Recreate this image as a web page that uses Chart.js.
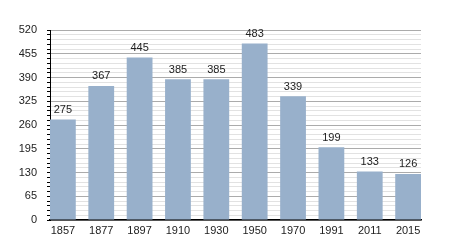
<!DOCTYPE html>
<html>
<head>
<meta charset="utf-8">
<script src="https://cdn.jsdelivr.net/npm/chart.js@4"></script>
<style>
  body { margin: 0; background: #fff; }
  #wrap { width: 450px; height: 250px; }
</style>
</head>
<body>
<div id="wrap"><canvas id="popChart" width="450" height="250"></canvas></div>
<script>
// population by census year
var years = ['1857', '1877', '1897', '1910', '1930', '1950', '1970', '1991', '2011', '2015'];
var population = [275, 367, 445, 385, 385, 483, 339, 199, 133, 126];
var yMax = 520;
var yMajor = 65;
var yMinor = 13;

document.addEventListener('DOMContentLoaded', function() {
    var ctx = document.getElementById('popChart').getContext('2d');
    Chart.defaults.font.family = "'Liberation Sans', Arial, sans-serif";
    Chart.defaults.font.size = 11;
    Chart.defaults.color = '#222';

    // numbers on top of each bar
    var barLabels = {
        id: 'barLabels',
        afterDatasetsDraw: function(chart) {
            var c = chart.ctx;
            var meta = chart.getDatasetMeta(0);
            c.save();
            c.font = "11px 'Liberation Sans', Arial, sans-serif";
            c.fillStyle = '#222';
            c.textAlign = 'center';
            c.textBaseline = 'bottom';
            meta.data.forEach(function(bar, i) {
                c.fillText(population[i], bar.x, bar.y - 4);
            });
            c.restore();
        }
    };

    new Chart(ctx, {
        type: 'bar',
        data: {
            datasets: [{
                data: population.map(function(v, i) { return { x: i, y: v }; }),
                backgroundColor: '#98b0cb',
                borderWidth: 0,
                categoryPercentage: 1,
                barPercentage: 0.672
            }]
        },
        options: {
            responsive: false,
            animation: false,
            layout: { padding: { top: 30, right: 29, bottom: 0, left: 0 } },
            plugins: {
                legend: { display: false },
                tooltip: { enabled: false }
            },
            scales: {
                x: {
                    type: 'linear',
                    offset: false,
                    min: -0.336,
                    max: 9.336,
                    afterBuildTicks: function(scale) {
                        scale.ticks = years.map(function(y, i) { return { value: i }; });
                    },
                    afterFit: function(scale) { scale.height = 30; },
                    grid: { display: false, drawTicks: false, offset: false },
                    border: { display: true, color: '#000', width: 1.5 },
                    ticks: {
                        autoSkip: false,
                        maxRotation: 0,
                        padding: 4,
                        color: '#222',
                        callback: function(v) { return years[v]; }
                    }
                },
                y: {
                    min: 0,
                    max: yMax,
                    afterFit: function(scale) { scale.width = 50; },
                    border: { display: true, color: '#000', width: 1 },
                    grid: {
                        tickLength: 3,
                        tickColor: '#000',
                        color: function(c) {
                            return c.tick.value % yMajor === 0 ? '#ababab' : '#e2e2e2';
                        }
                    },
                    ticks: {
                        stepSize: yMinor,
                        autoSkip: false,
                        padding: 10,
                        color: '#222',
                        callback: function(v) { return v % yMajor === 0 ? v : ''; }
                    }
                }
            }
        },
        plugins: [barLabels]
    });
});
</script>
</body>
</html>
